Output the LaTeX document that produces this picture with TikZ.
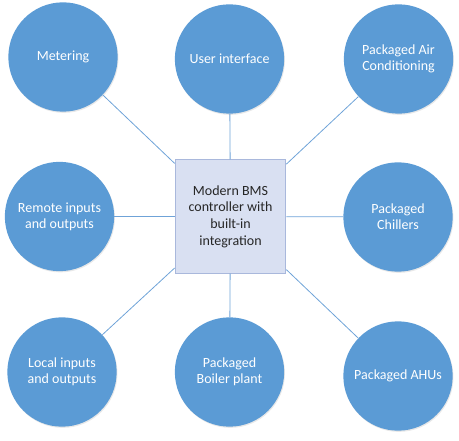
\documentclass[tikz,border=0pt]{standalone}
\usepackage{fontspec}
\setmainfont{Carlito}
\usetikzlibrary{shadows}
\definecolor{hub}{HTML}{5B9BD5}
\definecolor{wirec}{HTML}{6FA3D8}
\definecolor{boxfill}{HTML}{D9E0F2}
\definecolor{boxline}{HTML}{A9B8DC}
\definecolor{ink}{HTML}{262626}
\tikzset{unit/.style={circle,fill=hub,text=white,minimum size=82pt,inner sep=0pt,
    align=center,font=\fontsize{10.5}{12}\selectfont,
    drop shadow={opacity=.18,shadow xshift=.6pt,shadow yshift=-.9pt}},
  core/.style={rectangle,fill=boxfill,draw=boxline,line width=.8pt,minimum width=83pt,
    minimum height=85pt,inner sep=0pt,align=center,text=ink,
    font=\fontsize{10.5}{12.5}\selectfont},
  wire/.style={draw=wirec,line width=.6pt}}

\begin{document}
\begin{tikzpicture}[x=.75pt,y=-.75pt]
\useasboundingbox (0,0) rectangle (459,441);
\node[core] (bms) at (230.5,216.5) {Modern BMS\\controller with\\built-in\\integration};
\node[unit] (met) at (63,57) {Metering};
\node[unit] (ui) at (229.5,59) {User interface};
\node[unit] (pac) at (398.5,59) {Packaged Air\\Conditioning};
\node[unit] (rio) at (59.5,216.5) {Remote inputs\\and outputs};
\node[unit] (chl) at (398,217) {Packaged\\Chillers};
\node[unit] (lio) at (62,372) {Local inputs\\and outputs};
\node[unit] (blr) at (229.5,372) {Packaged\\Boiler plant};
\node[unit] (ahu) at (398,376) {Packaged AHUs};
\foreach \n in {met,ui,pac,rio,chl,lio,blr,ahu}
  \draw[wire] (\n) -- (bms);
\end{tikzpicture}
\end{document}
